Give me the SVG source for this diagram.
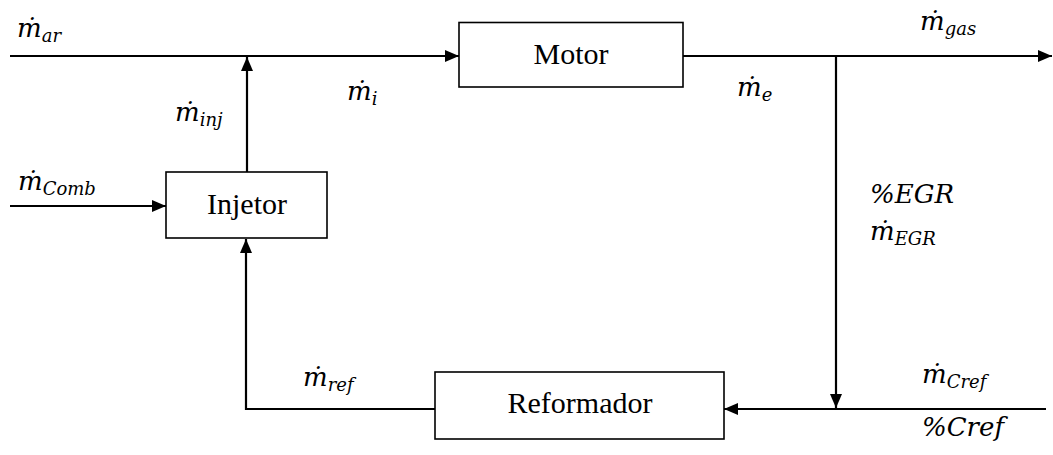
<svg xmlns="http://www.w3.org/2000/svg" width="1053" height="455" viewBox="0 0 1053 455">
<style>
.box{fill:#fff;stroke:#000;stroke-width:1.6}
.ln{fill:none;stroke:#000;stroke-width:2.2}
.lbl{font-family:'Times New Roman','Liberation Serif',Tinos,'Noto Serif','DejaVu Serif',serif;font-size:30px;fill:#000;text-anchor:middle}
.m{font-family:'Cambria Math','DejaVu Serif','Liberation Serif','Noto Serif',serif;font-style:italic;font-size:26px;fill:#000}
.s{font-size:18px}
</style>
<defs>
<marker id="ah" viewBox="0 0 14 12" refX="14" refY="6" markerWidth="14" markerHeight="12" markerUnits="userSpaceOnUse" orient="auto">
<path d="M0,0 L14,6 L0,12 Z" fill="#000"/>
</marker>
</defs>
<g id="connectors">
<path class="ln" d="M10,56 H459" marker-end="url(#ah)"/>
<path class="ln" d="M683,56 H1052" marker-end="url(#ah)"/>
<path class="ln" d="M836,56 V408" marker-end="url(#ah)"/>
<path class="ln" d="M1046,409 H724" marker-end="url(#ah)"/>
<path class="ln" d="M435,409 H246 V239" marker-end="url(#ah)"/>
<path class="ln" d="M247,172 V57" marker-end="url(#ah)"/>
<path class="ln" d="M10,206 H166" marker-end="url(#ah)"/>
</g>
<g id="motor">
<rect class="box" x="459" y="22.5" width="224" height="64.5"/>
<text class="lbl" x="571" y="64">Motor</text>
</g>
<g id="injetor">
<rect class="box" x="166" y="172" width="161" height="66"/>
<text class="lbl" x="247" y="214">Injetor</text>
</g>
<g id="reformador">
<rect class="box" x="435" y="372" width="289" height="67"/>
<text class="lbl" x="580" y="413">Reformador</text>
</g>
<g id="labels">
<text class="m" x="17" y="37">ṁ<tspan class="s" dy="5">ar</tspan></text>
<text class="m" x="175" y="121">ṁ<tspan class="s" dy="5">inj</tspan></text>
<text class="m" x="347" y="100">ṁ<tspan class="s" dy="5">i</tspan></text>
<text class="m" x="737" y="96">ṁ<tspan class="s" dy="5">e</tspan></text>
<text class="m" x="920" y="30">ṁ<tspan class="s" dy="5">gas</tspan></text>
<text class="m" x="18" y="190">ṁ<tspan class="s" dy="5">Comb</tspan></text>
<text class="m" x="870" y="203">%EGR</text>
<text class="m" x="870" y="240">ṁ<tspan class="s" dy="5">EGR</tspan></text>
<text class="m" x="303" y="386">ṁ<tspan class="s" dy="5">ref</tspan></text>
<text class="m" x="922" y="383">ṁ<tspan class="s" dy="5">Cref</tspan></text>
<text class="m" x="922" y="436">%Cref</text>
</g>
</svg>
